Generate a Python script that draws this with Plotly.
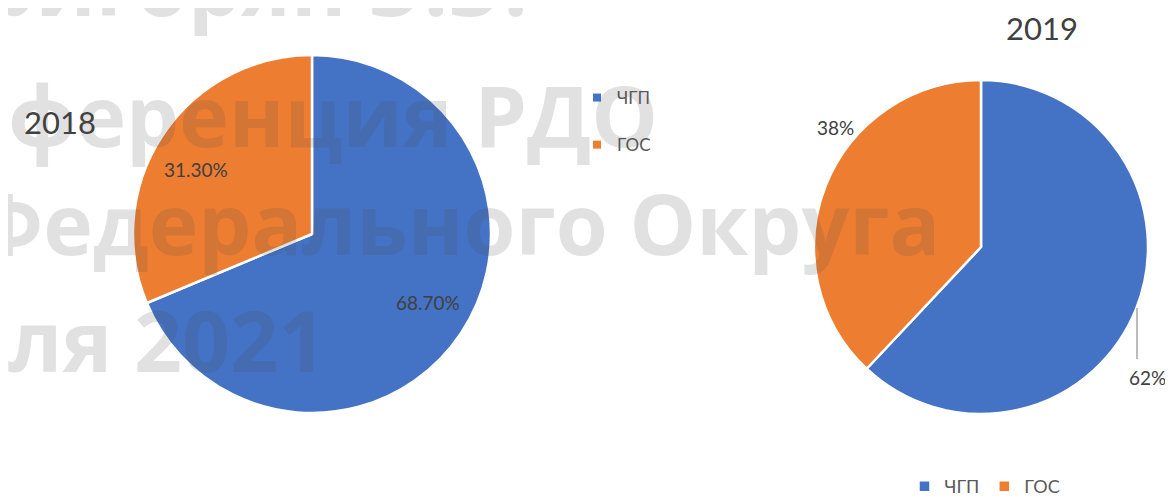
import plotly.graph_objects as go

# data
labels = ["ЧГП", "ГОС"]
values_2018 = [68.7, 31.3]
values_2019 = [62, 38]
colors = ["#4472C4", "#ED7D31"]

watermark = ["Григорян Э.Э.", "Конференция РДО", "Федерального Округа", "апреля 2021"]

# the page body has an 8px margin, so the figure is drawn from (8, 8)
OFF = 8
W, H = 1173 - OFF, 504
TXT = "#404040"


def px(x):
    return (x - OFF) / W


def py(y):
    return 1 - (y - OFF) / H


fig = go.Figure()

fig.add_trace(go.Pie(
    labels=labels, values=values_2018, sort=False, direction="clockwise", rotation=0,
    marker=dict(colors=colors, line=dict(color="white", width=2.5)),
    textinfo="none",
    domain=dict(x=[px(312 - 179), px(312 + 179)], y=[py(234 + 179), py(234 - 179)]),
    showlegend=False, hoverinfo="label+percent",
))

fig.add_trace(go.Pie(
    labels=labels, values=values_2019, sort=False, direction="clockwise", rotation=0,
    marker=dict(colors=colors, line=dict(color="white", width=2.5)),
    textinfo="none",
    domain=dict(x=[px(981 - 167), px(981 + 167)], y=[py(247 + 167), py(247 - 167)]),
    legend="legend2", hoverinfo="label+percent",
))

# legend for the 2018 chart (vertical, wide spacing)
for lab, col in zip(labels, colors):
    fig.add_trace(go.Scatter(
        x=[None], y=[None], mode="markers", name=lab, legendgroup=lab,
        marker=dict(symbol="square", size=8, color=col), legend="legend",
    ))

tot18 = sum(values_2018)
pct18 = [f"{v / tot18:.2%}" for v in values_2018]
tot19 = sum(values_2019)
pct19 = [f"{v / tot19:.0%}" for v in values_2019]

ann = [
    dict(text="2018", x=px(60), y=py(122), font=dict(size=31, color=TXT)),
    dict(text="2019", x=px(1042), y=py(28), font=dict(size=31, color=TXT)),
    dict(text=pct18[1], x=px(196), y=py(170), font=dict(size=19, color=TXT)),
    dict(text=pct18[0], x=px(428), y=py(302), font=dict(size=19, color=TXT)),
    dict(text=pct19[1], x=px(835), y=py(127), font=dict(size=19, color=TXT)),
    dict(text=pct19[0], x=px(1147), y=py(377), font=dict(size=19, color=TXT)),
]
for a in ann:
    a.update(xref="paper", yref="paper", showarrow=False, xanchor="center", yanchor="middle")
    a["font"]["family"] = "Lato"

# watermark lines (right end x, baseline y)
wm_pos = [(530, 17), (660, 147), (942, 255), (328, 372)]
for t, (xr, yb) in zip(watermark, wm_pos):
    ann.append(dict(
        text=f"<b>{t}</b>", xref="paper", yref="paper", x=px(xr), y=py(yb - 33),
        xanchor="right", yanchor="middle", showarrow=False,
        font=dict(family="Open Sans", size=84, color="rgba(80,80,80,0.17)"),
    ))

fig.update_layout(
    width=W, height=H,
    margin=dict(l=0, r=0, t=0, b=0),
    paper_bgcolor="white", plot_bgcolor="white",
    xaxis=dict(visible=False), yaxis=dict(visible=False),
    annotations=ann,
    shapes=[dict(type="line", xref="paper", yref="paper",
                 x0=px(1137), x1=px(1137), y0=py(308), y1=py(359),
                 line=dict(color="#A6A6A6", width=1.5))],
    legend=dict(x=px(577), y=py(80), xanchor="left", yanchor="top",
                tracegroupgap=22, font=dict(family="Lato", size=17, color="#595959"),
                bgcolor="rgba(0,0,0,0)"),
    legend2=dict(orientation="h", x=px(985), y=py(505), xanchor="center", yanchor="bottom",
                 font=dict(family="Lato", size=18, color="#595959"),
                 bgcolor="rgba(0,0,0,0)"),
)

fig.write_html("out.html")
